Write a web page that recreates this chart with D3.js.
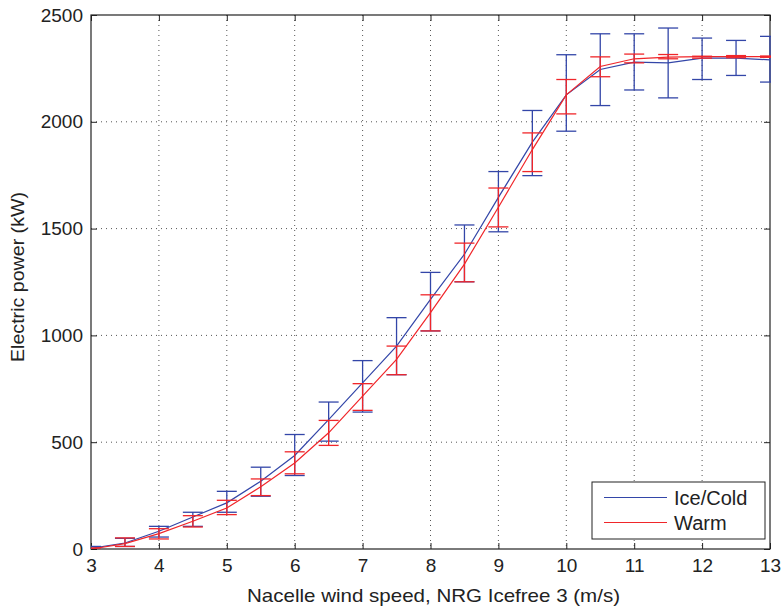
<!DOCTYPE html>
<html><head><meta charset="utf-8">
<script src="https://cdn.jsdelivr.net/npm/d3@7"></script>
<style>body{margin:0;background:#fff}svg{display:block}text{font-family:"Liberation Sans",Arial,sans-serif;fill:#222}</style>
</head><body><svg id="c" width="784" height="608"></svg>
<script>
const windSpeed = [3,3.5,4,4.5,5,5.5,6,6.5,7,7.5,8,8.5,9,9.5,10,10.5,11,11.5,12,12.5,13];
const coldMean  = [3,28,83,150,216,317,438,606,778,950,1169,1380,1646,1905,2126,2245,2279,2276,2298,2298,2290];
const coldHigh  = [12,50,106,172,270,383,536,688,882,1083,1295,1517,1767,2053,2314,2412,2412,2439,2392,2381,2400];
const coldLow   = [-2,12,56,106,172,247,344,505,641,816,1021,1251,1485,1748,1956,2076,2149,2112,2198,2217,2186];
const warmMean  = [0,25,72,130,192,291,403,544,716,888,1107,1334,1600,1870,2126,2259,2295,2303,2305,2305,2305];
const warmHigh  = [5,52,95,156,228,328,455,602,774,950,1190,1432,1690,1948,2198,2304,2317,2315,2307,2310,2308];
const warmLow   = [-3,12,47,103,161,250,352,485,649,816,1021,1251,1508,1767,2037,2211,2276,2295,2298,2300,2302];
const xTicks = [3,4,5,6,7,8,9,10,11,12,13];
const yTicks = [0,500,1000,1500,2000,2500];
const seriesNames = ["Ice/Cold","Warm"];
const colors = ["#3346a8","#f0262a"];

const svg = d3.select("#c");
const L=91,R=770,T=15,B=549;
const x = d3.scaleLinear().domain([3,13]).range([L,R]);
const y = d3.scaleLinear().domain([0,2500]).range([B,T]);

// grid
const g = svg.append("g");
g.selectAll(".gx").data(xTicks.slice(1,-1)).join("line")
 .attr("x1",d=>x(d)).attr("x2",d=>x(d)).attr("y1",T).attr("y2",B)
 .attr("stroke","#555").attr("stroke-width",1).attr("stroke-dasharray","1,4");
g.selectAll(".gy").data(yTicks.slice(1,-1)).join("line")
 .attr("y1",d=>y(d)).attr("y2",d=>y(d)).attr("x1",L).attr("x2",R)
 .attr("stroke","#555").attr("stroke-width",1).attr("stroke-dasharray","1,4");

// axes
const xa = svg.append("g").attr("transform",`translate(0,${B})`)
 .call(d3.axisBottom(x).tickValues(xTicks).tickFormat(d3.format("d")).tickSizeInner(-6).tickSizeOuter(0).tickPadding(10));
const ya = svg.append("g").attr("transform",`translate(${L},0)`)
 .call(d3.axisLeft(y).tickValues(yTicks).tickFormat(d3.format("d")).tickSizeInner(-6).tickSizeOuter(0).tickPadding(8));
const xt = svg.append("g").attr("transform",`translate(0,${T})`)
 .call(d3.axisTop(x).tickValues(xTicks).tickFormat("").tickSizeInner(-6).tickSizeOuter(0));
const yr = svg.append("g").attr("transform",`translate(${R},0)`)
 .call(d3.axisRight(y).tickValues(yTicks).tickFormat("").tickSizeInner(-6).tickSizeOuter(0));
[xa,ya,xt,yr].forEach(a=>{a.select(".domain").remove();a.selectAll("line").attr("stroke","#222");
 a.selectAll("text").style("font-size","19px").style("font-family","Liberation Sans, Arial, sans-serif").attr("fill","#222");});
svg.append("rect").attr("x",L).attr("y",T).attr("width",R-L).attr("height",B-T)
 .attr("fill","none").attr("stroke","#222").attr("stroke-width",1.2);

// data series
const series = [
 {mean:coldMean,hi:coldHigh,lo:coldLow},
 {mean:warmMean,hi:warmHigh,lo:warmLow}
];
svg.append("clipPath").attr("id","cl").append("rect").attr("x",L).attr("y",T-5).attr("width",R-L+1).attr("height",B-T+5);
series.forEach((s,i)=>{
 const gg = svg.append("g").attr("clip-path","url(#cl)");
 const pts = windSpeed.map((w,j)=>({w,m:s.mean[j],h:s.hi[j],l:s.lo[j]}));
 gg.append("path").datum(pts).attr("fill","none").attr("stroke",colors[i]).attr("stroke-width",1.2)
  .attr("d",d3.line().x(d=>x(d.w)).y(d=>y(d.m)));
 const cap = 10;
 gg.selectAll(".v").data(pts).join("line").attr("x1",d=>x(d.w)).attr("x2",d=>x(d.w))
  .attr("y1",d=>y(d.h)).attr("y2",d=>y(d.l)).attr("stroke",colors[i]).attr("stroke-width",1.3);
 gg.selectAll(".t").data(pts).join("line").attr("x1",d=>x(d.w)-cap).attr("x2",d=>x(d.w)+cap)
  .attr("y1",d=>y(d.h)).attr("y2",d=>y(d.h)).attr("stroke",colors[i]).attr("stroke-width",1.3);
 gg.selectAll(".b").data(pts).join("line").attr("x1",d=>x(d.w)-cap).attr("x2",d=>x(d.w)+cap)
  .attr("y1",d=>y(d.l)).attr("y2",d=>y(d.l)).attr("stroke",colors[i]).attr("stroke-width",1.3);
});

// axis titles
svg.append("text").attr("x",247).attr("y",601.5)
 .attr("textLength",373).attr("lengthAdjust","spacingAndGlyphs")
 .style("font-size","19px").text("Nacelle wind speed, NRG Icefree 3 (m/s)");
svg.append("text").attr("transform",`translate(24,${362}) rotate(-90)`)
 .attr("textLength",170).attr("lengthAdjust","spacingAndGlyphs")
 .style("font-size","19px").text("Electric power (kW)");

// legend
const lg = svg.append("g");
lg.append("rect").attr("x",592).attr("y",482).attr("width",173).attr("height",57)
 .attr("fill","#fff").attr("stroke","#222").attr("stroke-width",1);
seriesNames.forEach((n,i)=>{
 const yy = 497.5+i*25;
 lg.append("line").attr("x1",604).attr("x2",667).attr("y1",yy).attr("y2",yy).attr("stroke",colors[i]).attr("stroke-width",1.2);
 lg.append("text").attr("x",674).attr("y",yy+7).style("font-size","20px").text(n);
});
</script></body></html>
